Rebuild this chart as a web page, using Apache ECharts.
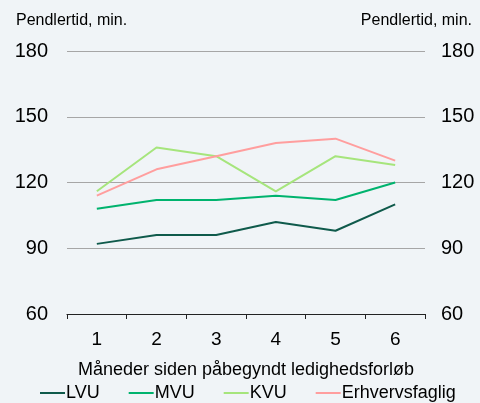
<!DOCTYPE html>
<html>
<head>
<meta charset="utf-8">
<script src="https://cdn.jsdelivr.net/npm/echarts@6/dist/echarts.min.js"></script>
<style>
  html, body { margin: 0; padding: 0; background: #f0f4f7; }
  #chart { width: 480px; height: 403px; }
</style>
</head>
<body>
<div id="chart"></div>
<script>
// data
const months = ['1', '2', '3', '4', '5', '6']
const lvu = [92, 96, 96, 102, 98, 110]
const mvu = [108, 112, 112, 114, 112, 120]
const kvu = [116, 136, 132, 116, 132, 128]
const erhverv = [114, 126, 132, 138, 140, 130]

const font = 'Arial, "Liberation Sans", sans-serif'

function line(name, data, color) {
    return {
        type: 'line',
        name: name,
        data: data,
        symbol: 'none',
        lineStyle: { width: 2, color: color },
        itemStyle: { color: color }
    }
}

// y axes, left and right share the same scale
const yAxisBase = {
    type: 'value',
    min: 60,
    max: 180,
    interval: 30,
    axisLine: { show: false },
    axisTick: { show: false },
    axisLabel: { color: '#000', fontSize: 20, fontFamily: font }
}

const titleStyle = { fontSize: 16, fontWeight: 'normal', color: '#000', fontFamily: font }

const cs = echarts.init(document.getElementById('chart'))
const option = {
    backgroundColor: '#f0f4f7',
    animation: false,
    title: [
        { text: 'Pendlertid, min.', left: 16, top: 13, padding: 0, textStyle: titleStyle },
        { text: 'Pendlertid, min.', right: 8, top: 13, padding: 0, textStyle: titleStyle }
    ],
    grid: { left: 67, right: 55, top: 51, bottom: 89 },
    xAxis: {
        type: 'category',
        data: months,
        boundaryGap: true,
        name: 'Måneder siden påbegyndt ledighedsforløb',
        nameLocation: 'middle',
        nameGap: 47,
        nameTextStyle: { color: '#000', fontSize: 18, fontFamily: font },
        axisLine: { lineStyle: { color: '#222', width: 1.2 } },
        axisTick: { show: true, length: 5, inside: false, lineStyle: { color: '#222' } },
        axisLabel: { color: '#000', fontSize: 19, fontFamily: font, margin: 16 }
    },
    yAxis: [
        Object.assign({}, yAxisBase, {
            position: 'left',
            axisLabel: Object.assign({}, yAxisBase.axisLabel, { margin: 19 }),
            splitLine: { show: true, lineStyle: { color: '#a6a6a6', width: 1.2 } }
        }),
        Object.assign({}, yAxisBase, {
            position: 'right',
            axisLabel: Object.assign({}, yAxisBase.axisLabel, { margin: 16 }),
            splitLine: { show: false }
        })
    ],
    legend: {
        top: 384,
        left: 40,
        padding: 0,
        icon: 'rect',
        itemWidth: 25,
        itemHeight: 2,
        itemGap: 29,
        textStyle: { color: '#000', fontSize: 18, fontFamily: font, padding: [0, 0, 0, -4] },
        data: ['LVU', 'MVU', 'KVU', 'Erhvervsfaglig']
    },
    series: [
        line('LVU', lvu, '#0f5a4b'),
        line('MVU', mvu, '#00b36e'),
        line('KVU', kvu, '#a6e57c'),
        line('Erhvervsfaglig', erhverv, '#ff9e9e')
    ]
}
cs.setOption(option)
</script>
</body>
</html>
